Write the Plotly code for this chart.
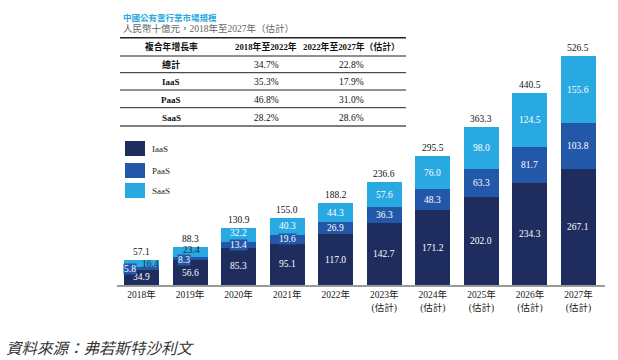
import plotly.graph_objects as go

# ---------------- data ----------------
years = ["2018年", "2019年", "2020年", "2021年", "2022年",
         "2023年", "2024年", "2025年", "2026年", "2027年"]
tick_labels = ["2018年", "2019年", "2020年", "2021年", "2022年",
               "2023年<br>(估計)", "2024年<br>(估計)", "2025年<br>(估計)",
               "2026年<br>(估計)", "2027年<br>(估計)"]
series_names = ["IaaS", "PaaS", "SaaS"]
iaas = [34.9, 56.6, 85.3, 95.1, 117.0, 142.7, 171.2, 202.0, 234.3, 267.1]
paas = [5.8, 8.3, 13.4, 19.6, 26.9, 36.3, 48.3, 63.3, 81.7, 103.8]
saas = [16.4, 23.4, 32.2, 40.3, 44.3, 57.6, 76.0, 98.0, 124.5, 155.6]
totals = [57.1, 88.3, 130.9, 155.0, 188.2, 236.6, 295.5, 363.3, 440.5, 526.5]

title_text = "中國公有雲行業市場規模"
subtitle_text = "人民幣十億元，2018年至2027年（估計）"
table_header = ["複合年增長率", "2018年至2022年", "2022年至2027年（估計）"]
table_rows = ["總計", "IaaS", "PaaS", "SaaS"]
cagr_2018_2022 = ["34.7%", "35.3%", "46.8%", "28.2%"]
cagr_2022_2027 = ["22.8%", "17.9%", "31.0%", "28.6%"]
source_text = "資料來源：弗若斯特沙利文"

# ---------------- style ----------------
C_IAAS = "#1e2c5e"
C_PAAS = "#2358a8"
C_SAAS = "#29a9e1"
colors = [C_IAAS, C_PAAS, C_SAAS]
SERIF = "Liberation Serif, Noto Sans CJK TC, serif"
SANS_CJK = "Noto Sans CJK TC, sans-serif"

W, H = 618, 360
L, R, T, B = 117, 605, 20, 285


def px(x):
    return (x - L) / (R - L)


def py(y):
    return (B - y) / (B - T)


scale = 0.4355  # px per unit
y_max = (B - T) / scale

fig = go.Figure()
for name, vals, col in zip(series_names, [iaas, paas, saas], colors):
    fig.add_trace(go.Bar(x=years, y=vals, name=name, marker_color=col,
                         marker_line_width=0, showlegend=False,
                         hoverinfo="skip"))

annotations = []


def note(x, y, text, font, xanchor="center", yanchor="middle", ref="paper", **kw):
    d = dict(x=x, y=y, text=text, showarrow=False, xanchor=xanchor, yanchor=yanchor,
             font=font, **kw)
    if ref == "paper":
        d.update(xref="paper", yref="paper")
    else:
        d.update(xref="x", yref="y")
    annotations.append(d)


# segment labels (positions computed from the data); small offsets for the thin segments
paas_shift = {0: (-12, 0), 1: (-6, -1)}
saas_shift = {0: (9, 0), 1: (1, 2), 2: (0, 2)}
dark_saas = {0, 1}
NUM = 9.5
for i, yr in enumerate(years):
    mid_i = iaas[i] / 2
    mid_p = iaas[i] + paas[i] / 2
    mid_s = iaas[i] + paas[i] + saas[i] / 2
    note(yr, mid_i, f"{iaas[i]:.1f}", dict(family=SERIF, size=NUM, color="white"), ref="data")
    dx, dy = paas_shift.get(i, (0, 0))
    note(yr, mid_p, f"{paas[i]:.1f}", dict(family=SERIF, size=NUM, color="white"), ref="data",
         xshift=dx, yshift=dy, bgcolor=C_PAAS, borderpad=0)
    scol = "#1b2a35" if i in dark_saas else "white"
    dx, dy = saas_shift.get(i, (0, 0))
    note(yr, mid_s, f"{saas[i]:.1f}", dict(family=SERIF, size=NUM, color=scol), ref="data",
         xshift=dx, yshift=dy)
    note(yr, totals[i], f"{totals[i]:.1f}", dict(family=SERIF, size=NUM, color="#111"),
         ref="data", yanchor="bottom", yshift=1)

# title + subtitle
note(px(121), py(17), f"<b>{title_text}</b>",
     dict(family=SANS_CJK, size=8.5, color="#29a8e0"), xanchor="left")
note(px(121), py(28.5), subtitle_text,
     dict(family=SERIF, size=9.5, color="#666"), xanchor="left")

# table
col_x = [171, 266, 351]
header_y = 47
row_y = [64.5, 82.5, 100, 117.5]
for cx, txt in zip(col_x, table_header):
    note(px(cx), py(header_y), f"<b>{txt}</b>", dict(family=SERIF, size=8.8, color="#111"))
for ry, lab, v1, v2 in zip(row_y, table_rows, cagr_2018_2022, cagr_2022_2027):
    note(px(col_x[0]), py(ry), f"<b>{lab}</b>", dict(family=SERIF, size=9, color="#111"))
    note(px(col_x[1]), py(ry), v1, dict(family=SERIF, size=9.5, color="#111"))
    note(px(col_x[2]), py(ry), v2, dict(family=SERIF, size=9.5, color="#111"))

shapes = []
for ly, lw in [(37.7, 1.4), (56, 1.2), (72.7, 1), (90, 1), (107.7, 1), (126, 1.6)]:
    shapes.append(dict(type="line", xref="paper", yref="paper",
                       x0=px(120), x1=px(406), y0=py(ly), y1=py(ly),
                       line=dict(color="#222" if ly != 126 else "#555", width=lw)))

# legend
leg_y = [(141, 156), (163, 178), (183, 198)]
for (y0, y1), name, col in zip(leg_y, series_names, colors):
    shapes.append(dict(type="rect", xref="paper", yref="paper",
                       x0=px(125), x1=px(145), y0=py(y1), y1=py(y0),
                       fillcolor=col, line=dict(width=0)))
    note(px(150), py((y0 + y1) / 2), name, dict(family=SERIF, size=9, color="#222"),
         xanchor="left")

# source
note(px(4), py(347), f"<i>{source_text}</i>",
     dict(family=SANS_CJK, size=15.5, color="#333"), xanchor="left")

fig.update_layout(
    width=W, height=H,
    margin=dict(l=L, r=W - R, t=T, b=H - B, autoexpand=False),
    paper_bgcolor="white", plot_bgcolor="white",
    barmode="stack", bargap=0.28,
    annotations=annotations, shapes=shapes,
    showlegend=False,
    xaxis=dict(range=[-0.505, 9.546], tickvals=years, ticktext=tick_labels,
               showline=True, linecolor="#9a9a9a", linewidth=2,
               showgrid=False, zeroline=False, ticks="", automargin=False,
               tickfont=dict(family=SERIF, size=9.5, color="#222")),
    yaxis=dict(range=[0, y_max], visible=False, showgrid=False, zeroline=False),
)

fig.write_html("out.html", config={"displayModeBar": False},
               post_script="document.body.style.margin='0';document.body.style.padding='0';")
